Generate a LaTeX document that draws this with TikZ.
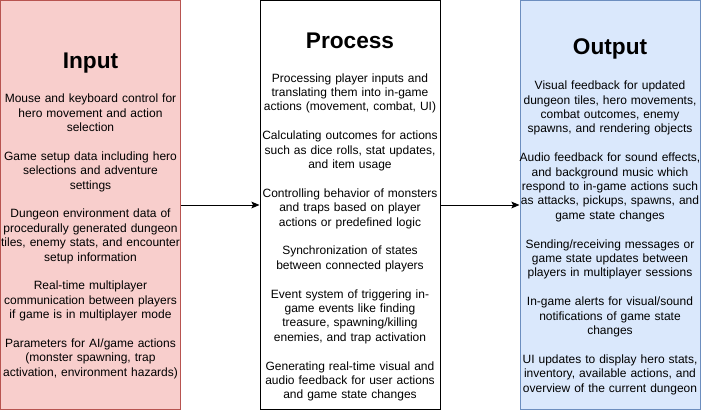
\documentclass[tikz,border=0pt]{standalone}
\usepackage{fontspec}
\setmainfont{Liberation Sans}
\usetikzlibrary{arrows.meta,positioning}
\definecolor{infill}{HTML}{F8CECC}
\definecolor{indraw}{HTML}{B85450}
\definecolor{outfill}{HTML}{DAE8FC}
\definecolor{outdraw}{HTML}{6C8EBF}

\begin{document}
\begin{tikzpicture}[x=0.75pt,y=-0.75pt,
  box/.style={draw,line width=0.75pt,minimum width=135pt,minimum height=306.75pt,inner sep=0pt},
  boxtitle/.style={anchor=base,inner sep=0pt,font=\fontsize{17}{20}\selectfont\bfseries},
  boxbody/.style={anchor=base,align=center,text width=150pt,inner sep=0pt,font=\fontsize{9}{10.8}\selectfont},
  flow/.style={-{Stealth[length=6pt,width=5pt,inset=1.2pt]},line width=0.75pt}]
\useasboundingbox (0,0) rectangle (701,411);
% the three boxes
\node[box,fill=infill,draw=indraw] (input) at (90.5,205) {};
\node[box,fill=white] (process) at (350,205) {};
\node[box,fill=outfill,draw=outdraw] (output) at (610,205) {};
\draw[flow] (input) -- (process);
\draw[flow] (process) -- (output);
% input
\node[boxtitle] (intitle) at (90.5,68.5) {Input};
\node[boxbody] (inbody) at (90.5,102.7) {Mouse and keyboard control for\\
hero movement and action\\
selection\\[10.8pt]
Game setup data including hero\\
selections and adventure\\
settings\\[10.8pt]
Dungeon environment data of\\
procedurally generated dungeon\\
tiles, enemy stats, and encounter\\
setup information\\[10.8pt]
Real-time multiplayer\\
communication between players\\
if game is in multiplayer mode\\[10.8pt]
Parameters for AI/game actions\\
(monster spawning, trap\\
activation, environment hazards)};
% process
\node[boxtitle] (proctitle) at (350,48.3) {Process};
\node[boxbody] (procbody) at (350,82) {Processing player inputs and\\
translating them into in-game\\
actions (movement, combat, UI)\\[10.8pt]
Calculating outcomes for actions\\
such as dice rolls, stat updates,\\
and item usage\\[10.8pt]
Controlling behavior of monsters\\
and traps based on player\\
actions or predefined logic\\[10.8pt]
Synchronization of states\\
between connected players\\[10.8pt]
Event system of triggering in-\\
game events like finding\\
treasure, spawning/killing\\
enemies, and trap activation\\[10.8pt]
Generating real-time visual and\\
audio feedback for user actions\\
and game state changes};
% output
\node[boxtitle] (outtitle) at (610,54.7) {Output};
\node[boxbody] (outbody) at (610,89.7) {Visual feedback for updated\\
dungeon tiles, hero movements,\\
combat outcomes, enemy\\
spawns, and rendering objects\\[10.8pt]
Audio feedback for sound effects,\\
and background music which\\
respond to in-game actions such\\
as attacks, pickups, spawns, and\\
game state changes\\[10.8pt]
Sending/receiving messages or\\
game state updates between\\
players in multiplayer sessions\\[10.8pt]
In-game alerts for visual/sound\\
notifications of game state\\
changes\\[10.8pt]
UI updates to display hero stats,\\
inventory, available actions, and\\
overview of the current dungeon};
\end{tikzpicture}
\end{document}
